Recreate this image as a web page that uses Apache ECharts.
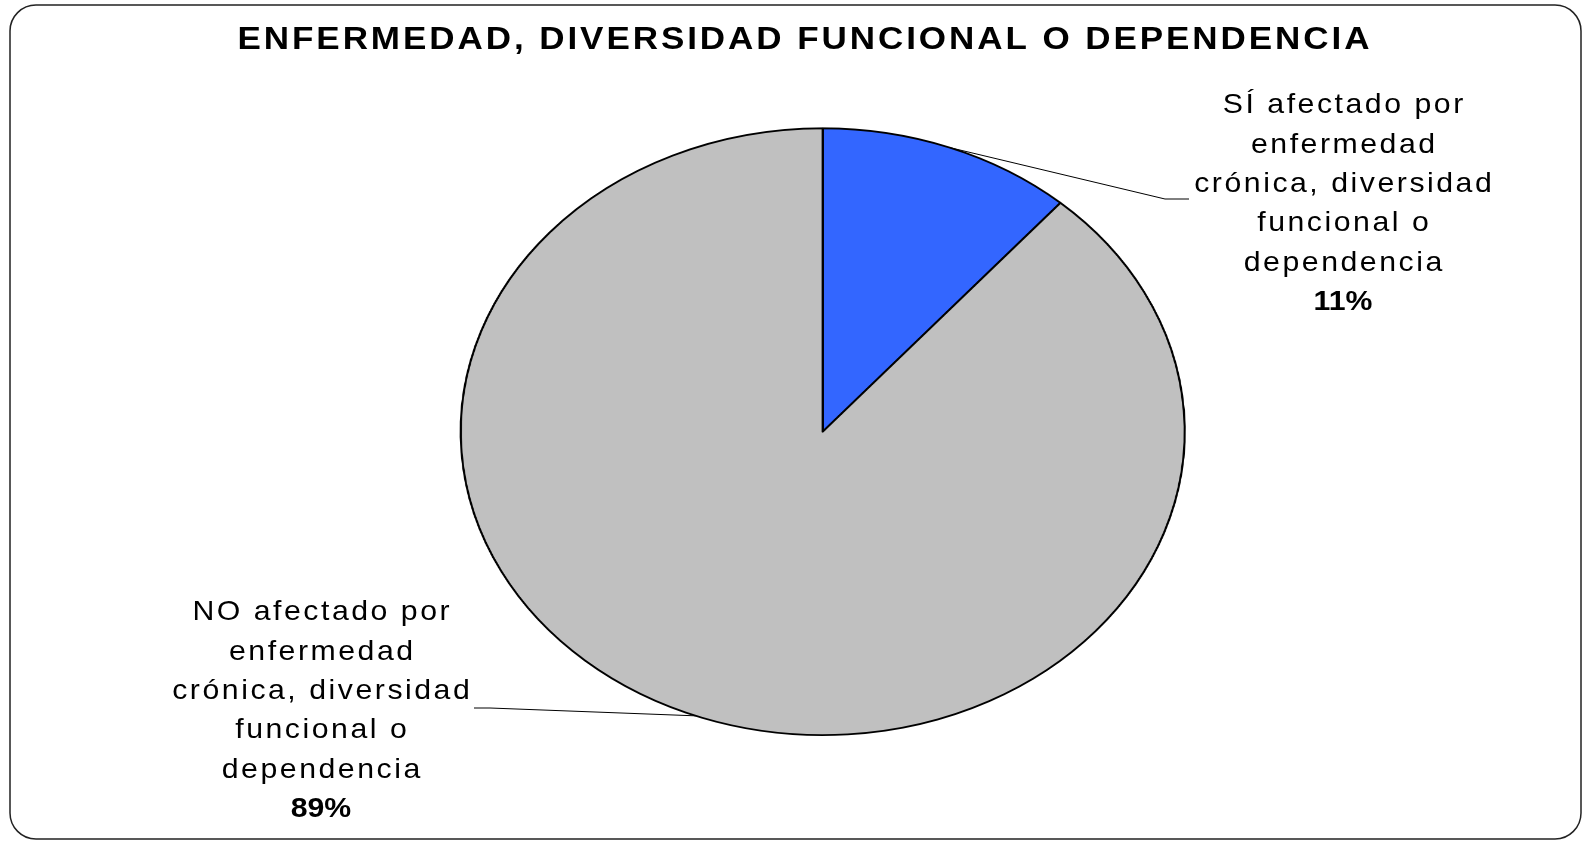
<!DOCTYPE html>
<html>
<head>
<meta charset="utf-8">
<script src="https://cdn.jsdelivr.net/npm/echarts@6/dist/echarts.min.js"></script>
<style>
html,body{margin:0;padding:0;background:#fff;}
.wrap{position:relative;width:1583px;height:844px;overflow:hidden;}
#pie{position:absolute;left:0;top:0;height:844px;transform-origin:0 0;}
#main{position:absolute;left:0;top:0;width:1583px;height:844px;}
</style>
</head>
<body>
<div class="wrap">
    <div id="pie"></div>
    <div id="main"></div>
</div>
<script>
const titleText = 'ENFERMEDAD, DIVERSIDAD FUNCIONAL O DEPENDENCIA'
const categories = [
    'SÍ afectado por\nenfermedad\ncrónica, diversidad\nfuncional o\ndependencia',
    'NO afectado por\nenfermedad\ncrónica, diversidad\nfuncional o\ndependencia'
]
const values = [11.4, 88.6]
const colors = ['#3366FF', '#C0C0C0']

// geometry of the (elliptical) pie
const cx = 822.7, cy = 431.7, rx = 362, ry = 303.4
const sx = rx / ry
const FONT = '"Liberation Sans", Arial, sans-serif'

// the pie is drawn round and stretched sideways into an ellipse
const pieDom = document.getElementById('pie')
pieDom.style.width = (1583 / sx) + 'px'
pieDom.style.transform = 'scaleX(' + sx + ')'

const pieChart = echarts.init(pieDom, null, { devicePixelRatio: 2 })
pieChart.setOption({
    animation: false,
    series: [{
        type: 'pie',
        silent: true,
        center: [cx / sx, cy],
        radius: ry,
        startAngle: 90,
        clockwise: true,
        label: { show: false },
        labelLine: { show: false },
        itemStyle: { borderColor: '#000', borderWidth: 1.8 },
        data: categories.map((name, i) => ({ name: name, value: values[i], itemStyle: { color: colors[i] } }))
    }]
})

// a bit of spacing between letters, like the original
function spread(str, gap){
    return str.split('\n').map(line => Array.from(line).join(gap)).join('\n')
}

const total = values.reduce((a, b) => a + b, 0)
const labelPos = [[1343, 204], [321, 711]]
const knees = [[[1165, 199], [1189, 199]], [[490, 708], [474, 708]]]

let graphics = []
// outer frame
graphics.push({
    type: 'rect',
    shape: { x: 10, y: 5, width: 1571, height: 834, r: 26 },
    style: { fill: 'none', stroke: '#222', lineWidth: 1.5 },
    silent: true
})
// title
graphics.push({
    type: 'text',
    x: 803.5,
    y: 40,
    scaleX: 1.13,
    style: {
        text: spread(titleText, '\u200A'),
        align: 'center',
        verticalAlign: 'middle',
        fontFamily: FONT,
        fontWeight: 'bold',
        fontSize: 31,
        fill: '#000'
    }
})

let cum = 0
values.forEach((v, i) => {
    let ang = 2 * Math.PI * (cum + v / 2) / total
    cum += v
    let edge = [cx + rx * Math.sin(ang), cy - ry * Math.cos(ang)]
    graphics.push({
        type: 'polyline',
        shape: { points: [edge].concat(knees[i]) },
        style: { stroke: '#000', lineWidth: 1, fill: 'none' },
        silent: true
    })
    let pct = Math.round(v / total * 100) + '%'
    graphics.push({
        type: 'text',
        x: labelPos[i][0],
        y: labelPos[i][1],
        scaleX: 1.08,
        style: {
            text: spread(categories[i], '\u200A') + '\n{b|' + pct + '}',
            align: 'center',
            verticalAlign: 'middle',
            fontFamily: FONT,
            fontSize: 28,
            lineHeight: 39.3,
            fill: '#000',
            rich: {
                b: { fontFamily: FONT, fontSize: 28, fontWeight: 'bold', lineHeight: 39.3, fill: '#000' }
            }
        }
    })
})

const myChart = echarts.init(document.getElementById('main'))
myChart.setOption({
    animation: false,
    graphic: graphics
})
</script>
</body>
</html>
